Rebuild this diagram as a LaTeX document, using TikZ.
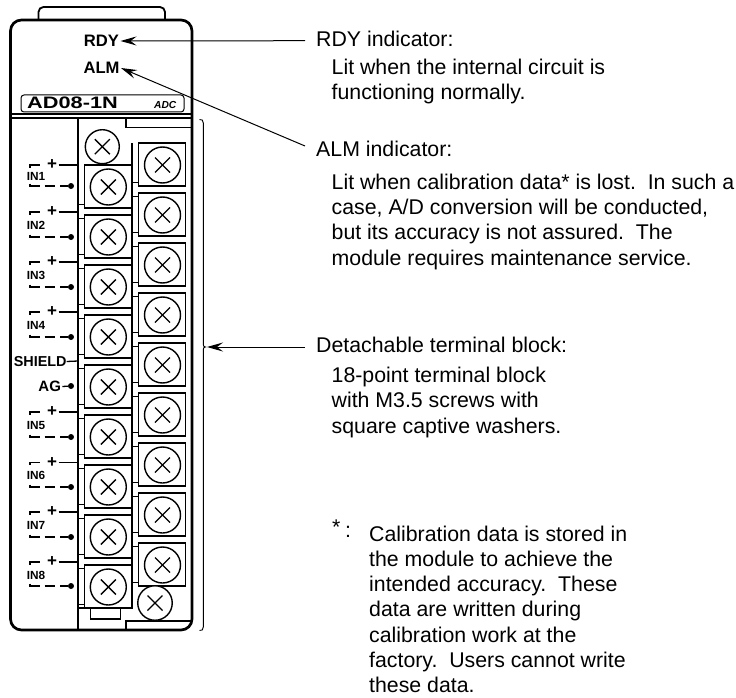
\documentclass[tikz,border=0pt]{standalone}
\usepackage{fontspec}
\setmainfont{Liberation Sans}
\usetikzlibrary{arrows.meta}

\tikzset{
    note/.style={anchor=base west,inner sep=0pt,align=left,font=\fontsize{21.3}{25.2}\selectfont},
    tag/.style={inner sep=0pt,outer sep=1.5pt,font=\bfseries\fontsize{16.6}{18}\selectfont},
    intag/.style={inner sep=0pt,font=\bfseries\fontsize{11.8}{13}\selectfont},
    term/.style={draw,rectangle,line width=1.3pt,inner sep=0pt,minimum width=47.5pt,minimum height=43pt},
    screw/.style={draw,circle,line width=1.4pt,inner sep=0pt,minimum size=#1,fill=white,
        path picture={
            \draw[line width=1.4pt] ([shift={(-7.5pt,-7.5pt)}]path picture bounding box.center) -- ([shift={(7.5pt,7.5pt)}]path picture bounding box.center);
            \draw[line width=1.4pt] ([shift={(-7.5pt,7.5pt)}]path picture bounding box.center) -- ([shift={(7.5pt,-7.5pt)}]path picture bounding box.center);
        }},
    wire/.style={line width=1.3pt},
    pin/.style={circle,fill=black,inner sep=0pt,minimum size=6pt},
    pointer/.style={line width=1pt,-{Stealth[length=16pt,width=9pt,inset=6pt]}}
}

\begin{document}
\begin{tikzpicture}[x=1pt,y=-1pt]
    \useasboundingbox (0,0) rectangle (736,698);

    \draw[line width=2.7pt,rounded corners=11pt] (10.5,100) -- (10.5,20) -- (192,20) -- (192,630) -- (10.5,630) -- cycle;
    \draw[line width=1.8pt,rounded corners=5pt] (38.5,20) -- (38.5,7) -- (165,7) -- (165,20);

    \draw[wire] (10.5,114) -- (192,114);
    \draw[wire] (10.5,118) -- (192,118);
    \draw[wire] (78,118) -- (78,630);
    \draw[wire] (126,118) -- (126,127.5) -- (192,127.5);
    \draw[wire] (126,630) -- (126,621) -- (192,621);
    \draw[wire] (132,143) -- (132,608);
    \draw[wire] (78,608) -- (132,608);
    \draw[wire] (90.7,608) -- (90.7,619) -- (120.7,619) -- (120.7,608);

    \node[draw,line width=1pt,rounded corners=3pt,inner sep=0pt,minimum width=163pt,minimum height=17pt] (namebar) at (102.5,103.5) {};
    \node[anchor=base west,inner sep=0pt,font=\bfseries\fontsize{16.6}{18}\selectfont] (modelname) at (27,108.3) {\scalebox{1.31}[1]{AD08-1N}};
    \node[anchor=base west,inner sep=0pt,font=\bfseries\itshape\fontsize{10.2}{12}\selectfont] (adc) at (154,108.3) {ADC};

    \foreach \i in {1,...,9}{
        \pgfmathsetmacro{\ltop}{165+50*(\i-1)}
        \pgfmathsetmacro{\rtop}{143+50*(\i-1)}
        \node[term] (lbox\i) at (108.2,\ltop+21.5) {};
        \node[screw=36pt] (lscrew\i) at (108.3,\ltop+22) {};
        \node[term] (rbox\i) at (162,\rtop+21.5) {};
        \node[screw=36pt] (rscrew\i) at (162.5,\rtop+22) {};
        \draw[wire] (78,\ltop+39.5) -- (84,\ltop+39.5);
        \draw[wire] (132,\rtop+39.5) -- (138,\rtop+39.5);
    }
    \foreach \i in {2,...,9}{
        \pgfmathsetmacro{\ltop}{165+50*(\i-1)}
        \pgfmathsetmacro{\rtop}{143+50*(\i-1)}
        \draw[wire] (78,\ltop+3.5) -- (84,\ltop+3.5);
        \draw[wire] (132,\rtop+3.5) -- (138,\rtop+3.5);
    }
    \node[screw=34pt] (topscrew) at (102.3,146.7) {};
    \node[screw=34.5pt] (endscrew) at (155,603) {};

    \foreach \n/\p/\d in {1/165/186,2/212/237,3/262/287,4/312/337,5/412/437,6/462.5/487,7/512/537,8/562/586}{
        \node[intag] (in\n) at (36,{(\p+\d)/2+1}) {IN\n};
        \node[inner sep=0pt,font=\bfseries\fontsize{17}{18}\selectfont] (plus\n) at (52,\p) {+};
        \node[pin] (pin\n) at (71,\d) {};
        \coordinate (rail\n) at (78,\p);
        \draw[wire] (plus\n.east) ++(1.5,0) -- (rail\n);
        \draw[wire] (30,\p+2.5) -- (30,\p) -- (40,\p);
        \draw[wire] (30,\d-2.5) -- (30,\d) -- (39.5,\d);
        \draw[wire] (44.5,\d) -- (55,\d);
        \draw[wire] (60,\d) -- (pin\n);
    }

    \node[tag,outer sep=0pt,font=\bfseries\fontsize{14.4}{16}\selectfont] (shield) at (40.2,361.5) {SHIELD};
    \coordinate (shieldrail) at (78,361);
    \draw[wire] (shield.east) -- (shieldrail);
    \node[tag,font=\bfseries\fontsize{15}{16}\selectfont] (ag) at (49.7,386.5) {AG};
    \node[pin] (agpin) at (71,386) {};
    \draw[wire] (ag.east) -- (agpin);

    \node[tag] (rdy) at (101.5,41) {RDY};
    \node[tag] (alm) at (101.5,68) {ALM};

    \coordinate (rdyend) at (305,40.7);
    \coordinate (almend) at (305,146);
    \coordinate (blockend) at (305,347);
    \coordinate (blocktip) at (207,347);
    \draw[pointer] (rdyend) -- (rdy.east);
    \draw[pointer] (almend) -- (alm.east);
    \draw[pointer] (blockend) -- (blocktip);

    \draw[line width=0.9pt] (199.5,119.5) .. controls (202,119.5) and (203.3,120) .. (203.3,123)
        -- (203.3,344.5) .. controls (203.3,346) and (204,347) .. (205.5,347)
        .. controls (204,347) and (203.3,348) .. (203.3,349.5)
        -- (203.3,627) .. controls (203.3,630) and (202,630.5) .. (199.5,630.5);

    \node[note] (rdyhead) at (316,46.7) {RDY indicator:};
    \node[note] (rdytext) at (331.5,100) {Lit when the internal circuit is\\functioning normally.};
    \node[note] (almhead) at (316,157) {ALM indicator:};
    \node[note] (almtext) at (331.5,265) {Lit when calibration data* is lost.\ \ In such a\\case, A/D conversion will be conducted,\\but its accuracy is not assured.\ \ The\\module requires maintenance service.};
    \node[note] (blockhead) at (316,352.7) {Detachable terminal block:};
    \node[note] (blocktext) at (331.5,433) {18-point terminal block\\with M3.5 screws with\\square captive washers.};
    \node[note] (star) at (332,534) {*};
    \node[note] (colon) at (345,537) {:};
    \node[note] (footnote) at (369,692.5) {Calibration data is stored in\\the module to achieve the\\intended accuracy.\ \ These\\data are written during\\calibration work at the\\factory.\ \ Users cannot write\\these data.};
\end{tikzpicture}
\end{document}
